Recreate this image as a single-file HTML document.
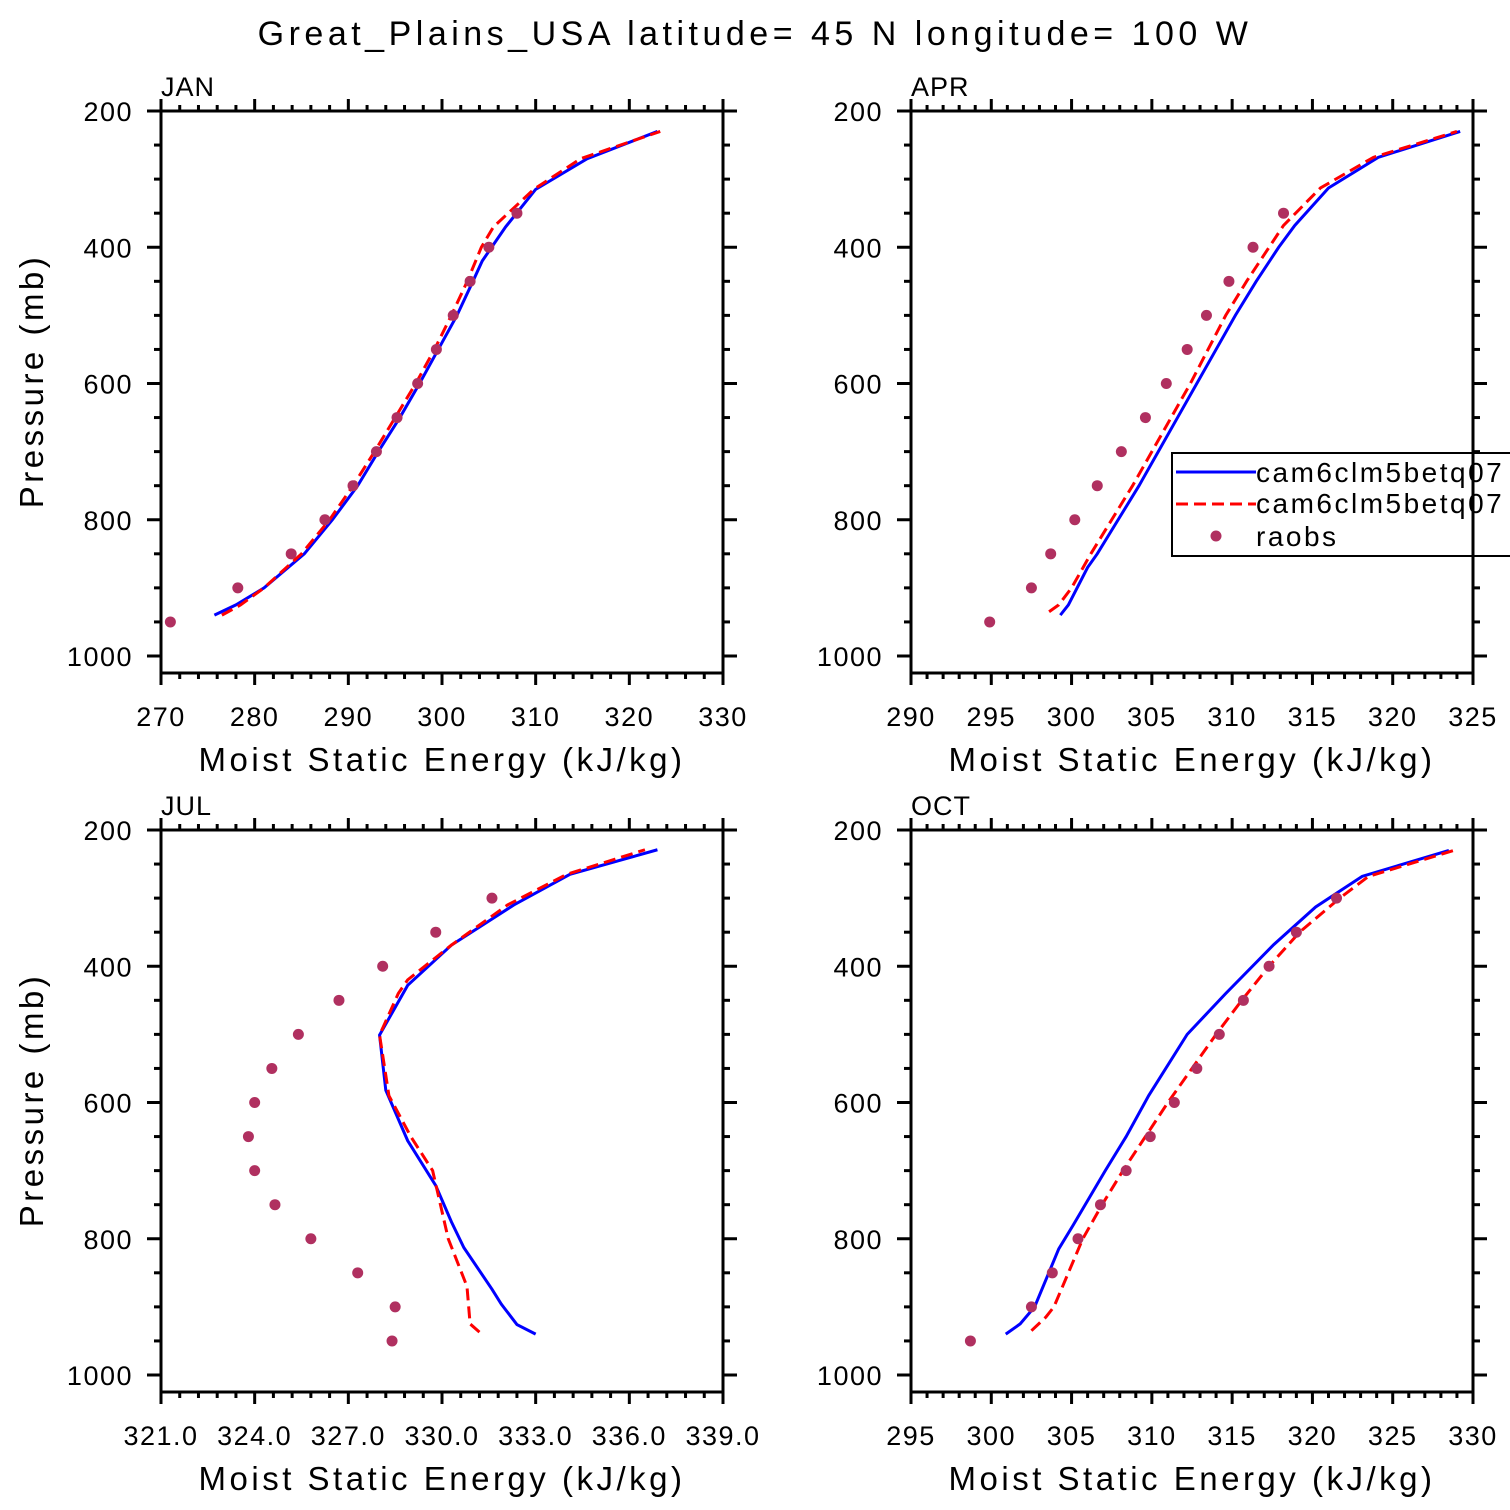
<!DOCTYPE html>
<html><head><meta charset="utf-8"><style>
html,body{margin:0;padding:0;background:#fff;width:1510px;height:1510px;overflow:hidden}
svg text{font-family:"Liberation Sans",sans-serif;fill:#000}
</style></head><body>
<svg id="chart" width="1510" height="1510" viewBox="0 0 1510 1510" xmlns="http://www.w3.org/2000/svg">
<text x="755" y="45" text-anchor="middle" font-size="34" letter-spacing="4.5">Great_Plains_USA  latitude= 45 N longitude= 100 W</text>
</svg>
<script>
// ---- data ----
const janBlueP=[940,925,900,850,800,750,700,650,600,550,500,450,420,370,315,270,230];
const janBlueV=[275.7,278,281,285.3,288.3,291,293.2,295.5,297.6,299.6,301.6,303.3,304.3,306.8,310,315.5,323];
const janRedP=[940,925,900,850,800,750,700,650,600,550,500,450,400,370,315,270,230];
const janRedV=[276.5,278.5,281,285,288,290.5,292.8,295,297.2,299.2,301,302.7,304.2,305.5,309.8,314.8,323.3];
const janObsP=[950,900,850,800,750,700,650,600,550,500,450,400,350];
const janObsV=[271,278.2,283.9,287.5,290.5,293,295.2,297.4,299.4,301.2,303,305,308];

const aprBlueP=[940,925,870,850,800,750,700,650,600,550,500,450,400,368,313,268,230];
const aprBlueV=[299.3,299.8,301,301.6,302.9,304.2,305.4,306.6,307.8,309,310.2,311.5,312.9,313.9,316,319.1,324.2];
const aprRedP=[935,925,900,850,800,750,700,650,600,550,500,450,400,368,313,268,230];
const aprRedV=[298.6,299.2,300,301.2,302.5,303.8,305,306.2,307.4,308.5,309.6,310.9,312.3,313.2,315.5,318.8,324];
const aprObsP=[950,900,850,800,750,700,650,600,550,500,450,400,350];
const aprObsV=[294.9,297.5,298.7,300.2,301.6,303.1,304.6,305.9,307.2,308.4,309.8,311.3,313.2];

const julBlueP=[940,926,896,874,813,775,722,656,582,501,428,369,310,265,229];
const julBlueV=[333.0,332.4,331.9,331.6,330.7,330.3,329.8,328.9,328.2,328.0,328.9,330.3,332.3,334.1,336.9];
const julRedP=[937,925,870,800,740,700,650,590,560,501,440,420,369,310,265,229];
const julRedV=[331.2,330.9,330.8,330.2,329.9,329.7,329,328.3,328.2,328.0,328.6,328.9,330.3,332.1,334,336.5];
const julObsP=[950,900,850,800,750,700,650,600,550,500,450,400,350,300];
const julObsV=[328.4,328.5,327.3,325.8,324.65,324.0,323.8,324.0,324.55,325.4,326.7,328.1,329.8,331.6];

const octBlueP=[940,925,900,815,780,700,650,590,500,440,368,313,268,230];
const octBlueV=[300.9,301.8,302.7,304.2,305.1,307.1,308.4,309.8,312.2,314.6,317.6,320.2,323.1,328.5];
const octRedP=[935,915,900,850,800,750,700,650,600,550,500,450,400,350,300,268,230];
const octRedV=[302.5,303.4,303.9,304.8,305.7,306.9,308.2,309.6,311.0,312.5,314.0,315.6,317.3,319.2,321.7,323.5,328.8];
const octObsP=[950,900,850,800,750,700,650,600,550,500,450,400,350,300];
const octObsV=[298.7,302.5,303.8,305.4,306.8,308.4,309.9,311.4,312.8,314.2,315.7,317.3,319.0,321.5];

const janXTicks=[270,280,290,300,310,320,330];
const aprXTicks=[290,295,300,305,310,315,320,325];
const julXTicks=["321.0","324.0","327.0","330.0","333.0","336.0","339.0"];
const octXTicks=[295,300,305,310,315,320,325,330];
const yTicks=[200,400,600,800,1000];

// ---- drawing ----
const NS="http://www.w3.org/2000/svg";
const svg=document.getElementById('chart');
function mk(tag,attrs,parent){const e=document.createElementNS(NS,tag);for(const k in attrs)e.setAttribute(k,attrs[k]);(parent||svg).appendChild(e);return e;}

function panel(cfg){
  const g=mk('g',{});
  
  
  const L=cfg.x0,T=cfg.y0,W=562,H=562;
  const xmin=cfg.xmin,xmax=cfg.xmax;
  const xs=v=>L+(v-xmin)/(xmax-xmin)*W;
  const ys=p=>T+(p-200)*0.68125;
  const tk=mk('g',{stroke:'#000','stroke-width':3},g);
  
  
  const nMinor=Math.round((xmax-xmin)/cfg.minor);
  for(let i=0;i<=nMinor;i++){
    const v=xmin+i*cfg.minor;const X=xs(v);
    const isMaj=Math.abs(((v-xmin)/cfg.major)-Math.round((v-xmin)/cfg.major))<1e-6;
    const len=isMaj?12:6;
    mk('line',{x1:X,x2:X,y1:T+H,y2:T+H+len},tk);
    mk('line',{x1:X,x2:X,y1:T,y2:T-len},tk);
  }
  for(let p=200;p<=1000;p+=50){
    const Y=ys(p);const isMaj=p%200===0;const len=isMaj?14:7;
    mk('line',{x1:L,x2:L-len,y1:Y,y2:Y},tk);
    mk('line',{x1:L+W,x2:L+W+len,y1:Y,y2:Y},tk);
  }
  const fr=mk('rect',{x:L,y:T,width:W,height:H,fill:'none',stroke:'#000','stroke-width':3},g);
  
  
  cfg.xticks.forEach(t=>{
    const tx=mk('text',{x:xs(parseFloat(t)),y:T+H+53,'text-anchor':'middle','font-size':27,'letter-spacing':1.5},g);
    
    
    tx.textContent=t;
  });
  yTicks.forEach(p=>{
    const tx=mk('text',{x:L-28,y:ys(p)+10,'text-anchor':'end','font-size':27,'letter-spacing':1.5},g);
    
    
    tx.textContent=p;
  });
  const xt=mk('text',{x:L+W/2,y:T+H+98,'text-anchor':'middle','font-size':33,'letter-spacing':3.5},g);
  
  
  xt.textContent='Moist Static Energy (kJ/kg)';
  if(cfg.ylab){
    const yt=mk('text',{x:0,y:0,'text-anchor':'middle','font-size':33,'letter-spacing':3.5,transform:`translate(${L-118},${T+H/2-11}) rotate(-90)`},g);
    
    
    yt.textContent='Pressure (mb)';
  }
  const pt=mk('text',{x:L,y:T-15,'font-size':27,'letter-spacing':1},g);
  
  
  pt.textContent=cfg.label;
  const bl=mk('polyline',{points:cfg.bP.map((p,i)=>xs(cfg.bV[i])+','+ys(p)).join(' '),fill:'none',stroke:'#0000ff','stroke-width':3},g);
  
  
  const rl=mk('polyline',{points:cfg.rP.map((p,i)=>xs(cfg.rV[i])+','+ys(p)).join(' '),fill:'none',stroke:'#ff0000','stroke-width':3,'stroke-dasharray':'12 6'},g);
  
  
  cfg.oP.forEach((p,i)=>{
    const c=mk('circle',{cx:xs(cfg.oV[i]),cy:ys(p),r:5.5,fill:'#b03060'},g);
    
    
  });
}
panel({name:'jan',label:'JAN',x0:161,y0:111,xmin:270,xmax:330,major:10,minor:2,xticks:janXTicks,ylab:true,bP:janBlueP,bV:janBlueV,rP:janRedP,rV:janRedV,oP:janObsP,oV:janObsV});
panel({name:'apr',label:'APR',x0:911,y0:111,xmin:290,xmax:325,major:5,minor:1,xticks:aprXTicks,ylab:false,bP:aprBlueP,bV:aprBlueV,rP:aprRedP,rV:aprRedV,oP:aprObsP,oV:aprObsV});
panel({name:'jul',label:'JUL',x0:161,y0:830,xmin:321,xmax:339,major:3,minor:0.6,xticks:julXTicks,ylab:true,bP:julBlueP,bV:julBlueV,rP:julRedP,rV:julRedV,oP:julObsP,oV:julObsV});
panel({name:'oct',label:'OCT',x0:911,y0:830,xmin:295,xmax:330,major:5,minor:1,xticks:octXTicks,ylab:false,bP:octBlueP,bV:octBlueV,rP:octRedP,rV:octRedV,oP:octObsP,oV:octObsV});

const lg=mk('g',{});


const lr=mk('rect',{x:1172,y:453,width:360,height:103,fill:'#fff',stroke:'#000','stroke-width':2},lg);


const l1=mk('line',{x1:1176,x2:1256,y1:472,y2:472,stroke:'#0000ff','stroke-width':3},lg);


const l2=mk('line',{x1:1176,x2:1256,y1:504,y2:504,stroke:'#ff0000','stroke-width':3,'stroke-dasharray':'12 6'},lg);


const l3=mk('circle',{cx:1216,cy:536,r:5.5,fill:'#b03060'},lg);


[['cam6clm5betq07',482],['cam6clm5betq07',513],['raobs',546]].forEach((d,i)=>{
  const t=mk('text',{x:1256,y:d[1],'font-size':28,'letter-spacing':2.5},lg);
  
  
  t.textContent=d[0];
});
const ra=mk('line',{x1:1473,x2:1473,y1:440,y2:570,stroke:'#000','stroke-width':3});


</script>
</body></html>
